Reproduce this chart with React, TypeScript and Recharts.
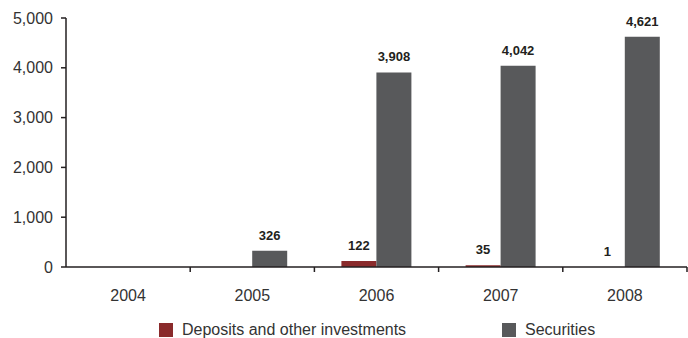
import { Bar, BarChart, LabelList, Legend, XAxis, YAxis } from 'recharts'

// values (EUR m)
const YEARS = ['2004', '2005', '2006', '2007', '2008']
const DEPOSITS = [null, null, 122, 35, 1]
const SECURITIES = [null, 326, 3908, 4042, 4621]
const Y_TICKS = [0, 1000, 2000, 3000, 4000, 5000]

const SERIES = [
  { key: 'deposits', name: 'Deposits and other investments', color: '#8a2a2b' },
  { key: 'securities', name: 'Securities', color: '#58595b' },
]

const data = YEARS.map((year, i) => ({
  year,
  deposits: DEPOSITS[i],
  securities: SECURITIES[i],
}))

const W = 688
const H = 338
const LEFT = 66
const RIGHT = 1
const BAND = (W - LEFT - RIGHT) / YEARS.length
const FONT = '"Liberation Sans", Arial, sans-serif'
const INK = '#231f20'

const fmt = (v: any) => (v == null ? '' : Number(v).toLocaleString('en-US'))

function YearTick(props: any) {
  const { x, y, payload } = props
  const edge = x + BAND / 2
  return (
    <g>
      <line x1={edge} x2={edge} y1={y - 5} y2={y} stroke={INK} strokeWidth={1.5} />
      <text x={x} y={y + 23} dy="0.35em" textAnchor="middle" fontSize={16} fill="#333" fontFamily={FONT}>
        {payload.value}
      </text>
    </g>
  )
}

function LegendBox() {
  const spots = [159, 502]
  return (
    <div style={{ position: 'relative', width: W, height: 24, fontFamily: FONT, fontSize: 16, color: '#333' }}>
      {SERIES.map((s, i) => (
        <div key={s.key} style={{ position: 'absolute', left: spots[i], top: 9, display: 'flex', alignItems: 'center', whiteSpace: 'nowrap' }}>
          <span style={{ width: 14, height: 14, background: s.color, display: 'inline-block', marginRight: 9 }} />
          <span style={{ lineHeight: '14px' }}>{s.name}</span>
        </div>
      ))}
    </div>
  )
}

export default function App() {
  return (
    <div style={{ position: 'absolute', left: 0, top: 0, width: W, height: H, background: '#fff' }}>
      <BarChart width={W} height={H} data={data} margin={{ top: 18, right: RIGHT, bottom: 0, left: 0 }} barGap={0} barSize={35}>
        <XAxis
          dataKey="year"
          height={47}
          tickLine={false}
          tickSize={5}
          tickMargin={0}
          axisLine={{ stroke: INK, strokeWidth: 1.5 }}
          tick={<YearTick />}
          interval={0}
        />
        <YAxis
          width={LEFT}
          domain={[0, 5000]}
          ticks={Y_TICKS}
          tickFormatter={fmt}
          tickSize={5}
          tickMargin={8}
          axisLine={{ stroke: INK, strokeWidth: 1.5 }}
          tickLine={{ stroke: INK, strokeWidth: 1.5 }}
          tick={{ fill: '#333', fontSize: 16, fontFamily: FONT }}
        />
        <Legend verticalAlign="bottom" content={() => <LegendBox />} />
        {SERIES.map((s) => (
          <Bar key={s.key} dataKey={s.key} name={s.name} fill={s.color} isAnimationActive={false}>
            <LabelList
              dataKey={s.key}
              position="top"
              offset={11}
              formatter={fmt}
              style={{ fill: INK, fontSize: 13, fontWeight: 'bold', fontFamily: FONT }}
            />
          </Bar>
        ))}
      </BarChart>
    </div>
  )
}
